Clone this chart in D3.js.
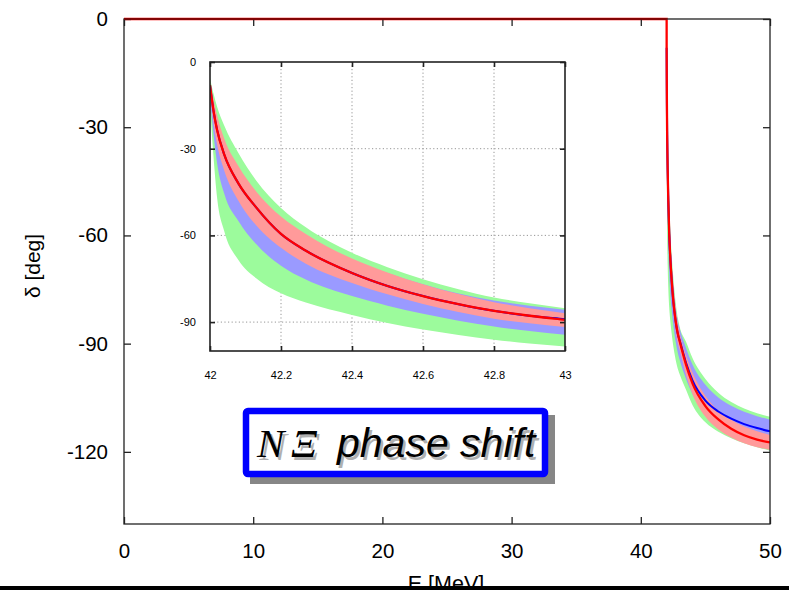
<!DOCTYPE html>
<html>
<head>
<meta charset="utf-8">
<script src="https://cdn.jsdelivr.net/npm/d3@7"></script>
<style>
  html, body { margin: 0; padding: 0; background: #fff; }
  svg { display: block; }
  text { font-family: "Liberation Sans", Arial, Helvetica, sans-serif; }
</style>
</head>
<body>
<svg id="chart" width="789" height="590"></svg>
<script>
// Energy grid above the threshold [MeV]
const energy = [42.0, 42.01, 42.02, 42.04, 42.08, 42.13, 42.2, 42.27, 42.4, 42.5, 42.6, 42.7, 42.8, 42.9, 43.0,
                43.5, 44, 45, 46, 47, 48, 49, 50];

// Central phase shifts [deg]
const redLine  = [-8, -17, -23.5, -32, -42, -50.3, -59.5, -65.3, -73, -77.5, -81, -83.8, -86.1, -87.8, -89.2,
                  -95.8, -101, -107.3, -111, -113.6, -115.4, -116.6, -117.4];
const blueLine = [-8, -17, -23.5, -32, -42, -50.3, -59.5, -65.3, -73, -77.5, -81, -83.8, -86.1, -87.8, -89.0,
                  -95.3, -100.2, -105.8, -108.8, -110.8, -112.3, -113.4, -114.3];

// Uncertainty bands [deg]
const greenHi = [-5.5, -11, -15.5, -22, -31.5, -41, -50.5, -57.2, -66, -71, -75.2, -78.6, -81.5, -83.5, -85.2,
                 -89.5, -94, -99.8, -103.6, -106.2, -108, -109.3, -110.3];
const greenLo = [-15, -33, -47, -58.5, -68.5, -74.8, -80, -83.2, -87.5, -90.3, -92.6, -94.5, -96.1, -97.4, -98.4,
                 -102.8, -107, -111.8, -114.4, -116.2, -117.6, -118.7, -119.7];
const blueHi  = [-7.5, -14, -19.5, -27.5, -37, -45.5, -54.2, -60.1, -68.4, -73, -76.9, -80.1, -82.5, -84.3, -85.7,
                 -91.2, -95.8, -101.4, -104.9, -107.2, -108.9, -110.1, -111.1];
const blueLo  = [-12, -25, -35, -45.5, -55, -63, -70.5, -75.3, -81, -84.3, -87.1, -89.5, -91.5, -93.1, -94.4,
                 -99.8, -104, -108.8, -111.4, -113, -114.3, -115.3, -116.1];
const redHi   = [-7, -13, -18.5, -26.5, -36, -44.8, -53.5, -59.5, -68, -72.8, -76.9, -80.3, -83.1, -85.2, -86.9,
                 -93.2, -98, -104.5, -108.5, -111.1, -113, -114.3, -115.3];
const redLo   = [-10, -21, -28.5, -37.5, -48, -56.5, -64.3, -69.8, -76.5, -80.4, -83.7, -86.5, -88.8, -90.4, -91.7,
                 -98.7, -104, -110.3, -113.8, -116, -117.6, -118.7, -119.5];

// Below threshold the phase shift vanishes
const belowEnergy = [0, 42];
const belowDelta  = [0, 0];

// Tick labels
const mainXTicks  = [0, 10, 20, 30, 40, 50];
const mainYTicks  = [0, -30, -60, -90, -120];
const insetXTicks = [42, 42.2, 42.4, 42.6, 42.8, 43];
const insetYTicks = [0, -30, -60, -90];

const svg = d3.select("#chart");

const rows = energy.map((e, i) => ({
  e, red: redLine[i], blue: blueLine[i],
  gHi: greenHi[i], gLo: greenLo[i], bHi: blueHi[i], bLo: blueLo[i], rHi: redHi[i], rLo: redLo[i]
}));
const redPath = belowEnergy.map((e, i) => ({ e, red: belowDelta[i] })).concat(rows);

const COLORS = { green: "#9cfb9c", blue: "#9a9aff", red: "#ff9a9a", redLine: "#ff0000", blueLine: "#0000ff" };
const plainNum = d => String(d);   // ASCII hyphen for negative labels

function drawCurves(g, x, y, clipId, withBelow) {
  const area = (hi, lo) => d3.area().x(d => x(d.e)).y0(d => y(d[lo])).y1(d => y(d[hi])).curve(d3.curveMonotoneX);
  const cg = g.append("g").attr("clip-path", `url(#${clipId})`);
  cg.append("path").datum(rows).attr("d", area("gHi", "gLo")).attr("fill", COLORS.green);
  cg.append("path").datum(rows).attr("d", area("bHi", "bLo")).attr("fill", COLORS.blue);
  cg.append("path").datum(rows).attr("d", area("rHi", "rLo")).attr("fill", COLORS.red);
  cg.append("path").datum(rows)
    .attr("d", d3.line().x(d => x(d.e)).y(d => y(d.blue)).curve(d3.curveMonotoneX))
    .attr("fill", "none").attr("stroke", COLORS.blueLine).attr("stroke-width", 2);
  cg.append("path").datum(withBelow ? redPath : rows)
    .attr("d", d3.line().x(d => x(d.e)).y(d => y(d.red)).curve(d3.curveMonotoneX))
    .attr("fill", "none").attr("stroke", COLORS.redLine).attr("stroke-width", 2.3);
}

function boxAxes(g, x, y, opt) {
  const [x0, x1] = x.range();
  const [y0, y1] = y.range();
  const frame = "#222";
  const left = g.append("g").attr("transform", `translate(${x0},0)`)
    .call(d3.axisLeft(y).tickValues(opt.yTicks).tickSize(-opt.tick).tickPadding(opt.padY).tickFormat(plainNum));
  const bottom = g.append("g").attr("transform", `translate(0,${y0})`)
    .call(d3.axisBottom(x).tickValues(opt.xTicks).tickSize(-opt.tick).tickPadding(opt.padX).tickFormat(plainNum));
  const right = g.append("g").attr("transform", `translate(${x1},0)`)
    .call(d3.axisRight(y).tickValues(opt.yTicks).tickSize(-opt.tick).tickFormat(""));
  const top = g.append("g").attr("transform", `translate(0,${y1})`)
    .call(d3.axisTop(x).tickValues(opt.xTicks).tickSize(-opt.tick).tickFormat(""));
  [left, bottom, right, top].forEach(a => {
    a.select(".domain").remove();
    a.selectAll("line").attr("stroke", frame).attr("stroke-width", opt.sw);
    a.selectAll("text").attr("fill", "#000").attr("font-size", opt.font)
      .attr("font-family", "'Liberation Sans', Arial, sans-serif");
  });
  g.append("rect").attr("x", x0).attr("y", y1).attr("width", x1 - x0).attr("height", y0 - y1)
    .attr("fill", "none").attr("stroke", frame).attr("stroke-width", opt.sw);
}

// ---------- main panel ----------
const x = d3.scaleLinear().domain([0, 50]).range([124, 770]);
const y = d3.scaleLinear().domain([-140, 0]).range([524, 19]);

const defs = svg.append("defs");
defs.append("clipPath").attr("id", "clipMain").append("rect")
  .attr("x", 124).attr("y", 17).attr("width", 646).attr("height", 507);

const main = svg.append("g");
drawCurves(main, x, y, "clipMain", true);
boxAxes(main, x, y, { xTicks: mainXTicks, yTicks: mainYTicks, tick: 7, padX: 19, padY: 16, font: 20.5, sw: 1.3 });
// the zero line running along the top border
main.append("line").attr("x1", x(0)).attr("x2", x(42)).attr("y1", y(0)).attr("y2", y(0))
  .attr("stroke", "#8a0000").attr("stroke-width", 1.6);

// axis titles
svg.append("text").attr("transform", "translate(40,266) rotate(-90)")
  .attr("text-anchor", "middle").attr("font-size", 21).text("δ [deg]");
svg.append("text").attr("x", 446).attr("y", 591).attr("text-anchor", "middle")
  .attr("font-size", 21.5).text("E [MeV]");

// ---------- inset ----------
const ix = d3.scaleLinear().domain([42, 43]).range([210, 565]);
const iy = d3.scaleLinear().domain([-100, 0]).range([351, 62]);
defs.append("clipPath").attr("id", "clipInset").append("rect")
  .attr("x", 210).attr("y", 62).attr("width", 355).attr("height", 289);

const inset = svg.append("g");
inset.append("rect").attr("x", 210).attr("y", 62).attr("width", 355).attr("height", 289).attr("fill", "#fff");
// dotted grid
inset.append("g").selectAll("line").data(insetXTicks.slice(1, -1)).join("line")
  .attr("x1", d => ix(d)).attr("x2", d => ix(d)).attr("y1", iy(-100)).attr("y2", iy(0))
  .attr("stroke", "#8a8a8a").attr("stroke-width", 0.9).attr("stroke-dasharray", "1.2,2.4");
inset.append("g").selectAll("line").data(insetYTicks.slice(1)).join("line")
  .attr("x1", ix(42)).attr("x2", ix(43)).attr("y1", d => iy(d)).attr("y2", d => iy(d))
  .attr("stroke", "#8a8a8a").attr("stroke-width", 0.9).attr("stroke-dasharray", "1.2,2.4");
drawCurves(inset, ix, iy, "clipInset", false);
boxAxes(inset, ix, iy, { xTicks: insetXTicks, yTicks: insetYTicks, tick: 5, padX: 20, padY: 14, font: 11, sw: 1.6 });

// ---------- title box ----------
const tb = svg.append("g");
tb.append("rect").attr("x", 250).attr("y", 415).attr("width", 305).attr("height", 69).attr("fill", "#868686");
tb.append("rect").attr("x", 246).attr("y", 411).attr("width", 299).attr("height", 63).attr("rx", 2)
  .attr("fill", "#fff").attr("stroke", "#0000ff").attr("stroke-width", 6.5);
function titleText(dx, dy, fill) {
  const t = tb.append("text").attr("y", 457 + dy).attr("fill", fill).attr("font-size", 41);
  t.append("tspan").attr("x", 257 + dx).attr("font-family", "'Liberation Serif', 'Times New Roman', serif")
    .attr("font-style", "italic").text("N");
  t.append("tspan").attr("x", 291 + dx).attr("font-family", "'Liberation Serif', 'Times New Roman', serif")
    .attr("font-style", "italic").text("Ξ");
  t.append("tspan").attr("x", 337 + dx).attr("font-family", "'Liberation Sans', Arial, sans-serif")
    .attr("font-style", "italic").text("phase shift");
}
titleText(2.5, 2.5, "#b0b0b0");
titleText(0, 0, "#000");

// bottom edge bar
svg.append("rect").attr("x", 0).attr("y", 586).attr("width", 789).attr("height", 4).attr("fill", "#000");
</script>
</body>
</html>
